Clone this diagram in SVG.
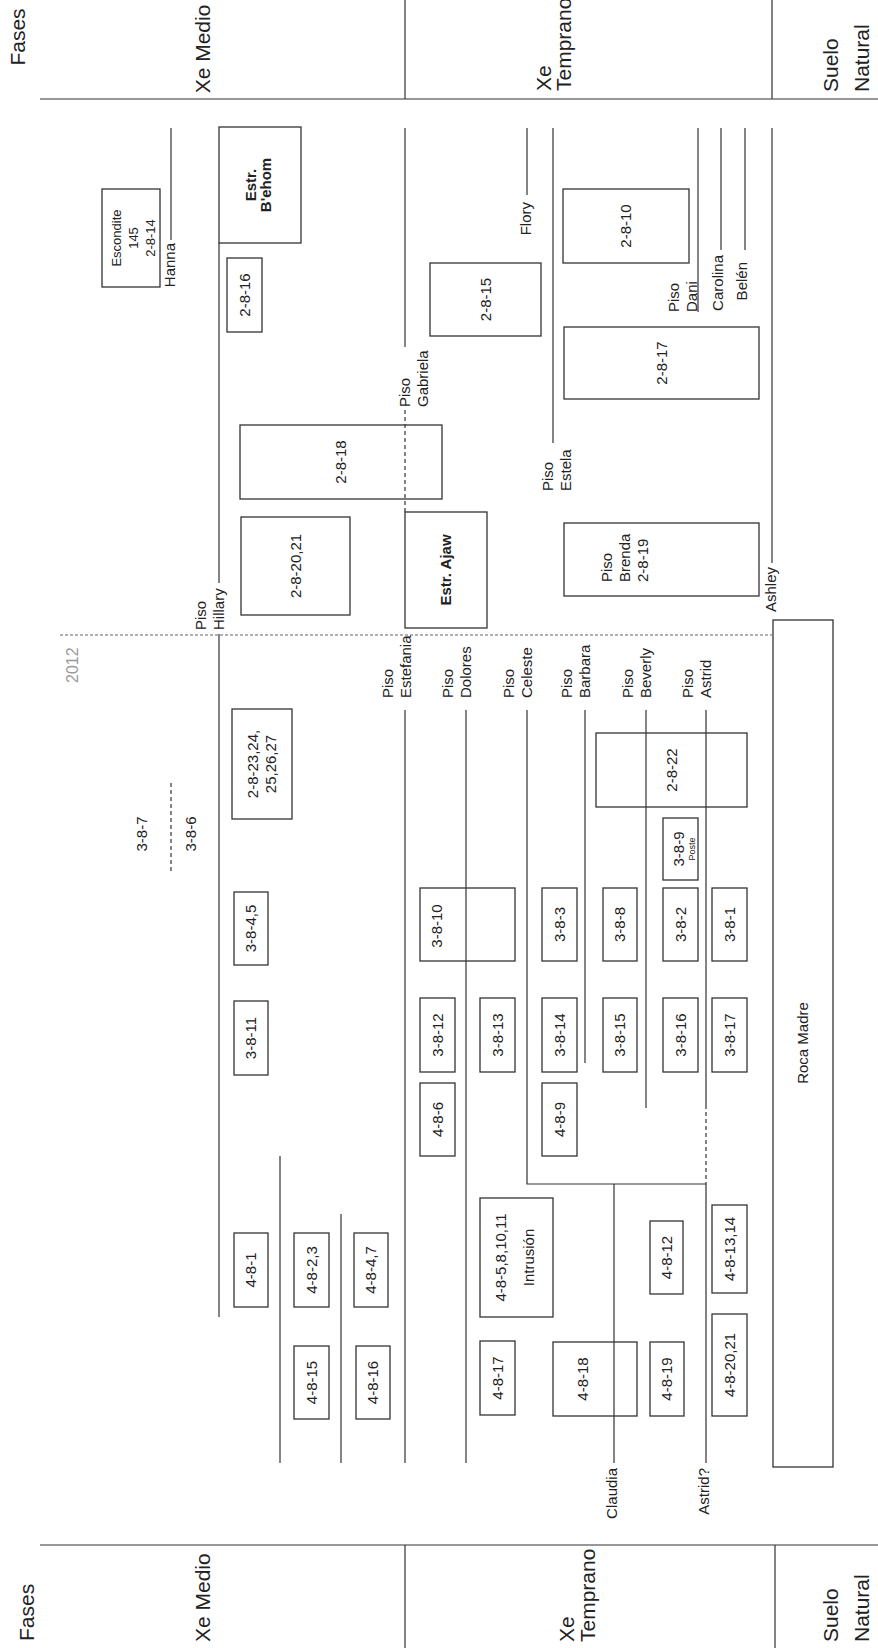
<svg xmlns="http://www.w3.org/2000/svg" width="878" height="1648" viewBox="0 0 878 1648">
<style>
text{font-family:"Liberation Sans",Arial,sans-serif;font-size:15px;fill:#222}
.h{font-size:21px}
.b{font-weight:bold}
.m{text-anchor:middle}
.e{text-anchor:end}
.sm{font-size:13px}
.xs{font-size:9px}
.g{fill:#999;font-size:16px}
rect{fill:none;stroke:#333;stroke-width:1.3}
.ln{fill:none;stroke:#333;stroke-width:1.2}
.d{stroke-dasharray:4 3}
.d2{fill:none;stroke:#999;stroke-width:1.6;stroke-dasharray:3 2}
</style>
<rect x="0" y="0" width="878" height="1648" style="fill:#fff;stroke:none"/>
<g id="header-top">
<path class="ln" d="M40 99H878M405 0V99M772 0V99"/>
<text class="h m" transform="translate(25,37) rotate(-90)">Fases</text>
<text class="h m" transform="translate(210,49) rotate(-90)">Xe Medio</text>
<text class="h" transform="translate(551,91) rotate(-90)"><tspan x="0" y="0">Xe</tspan><tspan x="0" y="20">Temprano</tspan></text>
<text class="h" transform="translate(838,92) rotate(-90)"><tspan x="0" y="0">Suelo</tspan><tspan x="0" y="31">Natural</tspan></text>
</g>
<g id="header-bottom">
<path class="ln" d="M40 1545H878M405 1545V1648M775 1545V1648"/>
<text class="h" transform="translate(34,1641) rotate(-90)">Fases</text>
<text class="h" transform="translate(210,1642) rotate(-90)">Xe Medio</text>
<text class="h" transform="translate(574,1642) rotate(-90)"><tspan x="0" y="0">Xe</tspan><tspan x="0" y="21">Temprano</tspan></text>
<text class="h" transform="translate(838,1642) rotate(-90)"><tspan x="0" y="0">Suelo</tspan><tspan x="0" y="31">Natural</tspan></text>
</g>
<g id="connectors">
<path class="ln" d="M171 128V240"/>
<path class="ln" d="M219 243V583M219 634V1317"/>
<path class="ln" d="M405 128V347"/>
<path class="ln d" d="M405 410V512"/>
<path class="ln" d="M527 128V195"/>
<path class="ln" d="M553 128V443"/>
<path class="ln" d="M698 128V312"/>
<path class="ln" d="M721 128V250"/>
<path class="ln" d="M745 128V250"/>
<path class="ln" d="M772 128V563"/>
<path class="d2" d="M60 635H772"/>
<path class="ln d" d="M171 783V873"/>
<path class="ln" d="M405 710V1463"/>
<path class="ln" d="M466 710V1463"/>
<path class="ln" d="M527 710V1184H706"/>
<path class="ln" d="M585 710V1063"/>
<path class="ln" d="M646 710V1108"/>
<path class="ln" d="M706 710V1105M706 1184V1463"/>
<path class="ln d" d="M706 1105V1184"/>
<path class="ln" d="M614 1184V1463"/>
<path class="ln" d="M280 1156V1463"/>
<path class="ln" d="M341 1214V1463"/>
</g>
<g id="labels">
<text class="e" transform="translate(175,243) rotate(-90)">Hanna</text>
<text class="e" transform="translate(531,202) rotate(-90)">Flory</text>
<text class="e" transform="translate(723,255) rotate(-90)">Carolina</text>
<text class="e" transform="translate(747,262) rotate(-90)">Belén</text>
<text class="e" transform="translate(776,567) rotate(-90)">Ashley</text>
<text class="e" transform="translate(617,1468) rotate(-90)">Claudia</text>
<text class="e" transform="translate(709,1468) rotate(-90)">Astrid?</text>
<text transform="translate(206,630) rotate(-90)"><tspan x="0" y="0">Piso</tspan><tspan x="0" y="18">Hillary</tspan></text>
<text transform="translate(410,407) rotate(-90)"><tspan x="0" y="0">Piso</tspan><tspan x="0" y="18">Gabriela</tspan></text>
<text transform="translate(553,491) rotate(-90)"><tspan x="0" y="0">Piso</tspan><tspan x="0" y="18">Estela</tspan></text>
<text transform="translate(679,312) rotate(-90)"><tspan x="0" y="0">Piso</tspan><tspan x="0" y="18">Dani</tspan></text>
<text transform="translate(393,698) rotate(-90)"><tspan x="0" y="0">Piso</tspan><tspan x="0" y="18">Estefania</tspan></text>
<text transform="translate(453,698) rotate(-90)"><tspan x="0" y="0">Piso</tspan><tspan x="0" y="18">Dolores</tspan></text>
<text transform="translate(514,698) rotate(-90)"><tspan x="0" y="0">Piso</tspan><tspan x="0" y="18">Celeste</tspan></text>
<text transform="translate(572,698) rotate(-90)"><tspan x="0" y="0">Piso</tspan><tspan x="0" y="18">Barbara</tspan></text>
<text transform="translate(633,698) rotate(-90)"><tspan x="0" y="0">Piso</tspan><tspan x="0" y="18">Beverly</tspan></text>
<text transform="translate(693,698) rotate(-90)"><tspan x="0" y="0">Piso</tspan><tspan x="0" y="18">Astrid</tspan></text>
<text class="g" transform="translate(78,683) rotate(-90)">2012</text>
<text class="m" transform="translate(147,834) rotate(-90)">3-8-7</text>
<text class="m" transform="translate(196,834) rotate(-90)">3-8-6</text>
</g>
<g id="n-escondite"><rect x="102" y="189" width="58" height="98"/><text class="sm m" transform="translate(121,238) rotate(-90)"><tspan x="0" y="0">Escondite</tspan><tspan x="0" y="17">145</tspan><tspan x="0" y="34">2-8-14</tspan></text></g>
<g id="n-behom"><rect x="219" y="127" width="82" height="116"/><text class="b m" transform="translate(256,185) rotate(-90)"><tspan x="0" y="0">Estr.</tspan><tspan x="0" y="15">B'ehom</tspan></text></g>
<g id="n-2-8-16"><rect x="227" y="258" width="35" height="74"/><text class="m" transform="translate(249.9,295) rotate(-90)">2-8-16</text></g>
<g id="n-2-8-15"><rect x="430" y="263" width="111" height="73"/><text class="m" transform="translate(490.9,299.5) rotate(-90)">2-8-15</text></g>
<g id="n-2-8-10"><rect x="563" y="189" width="126" height="74"/><text class="m" transform="translate(631.4,226) rotate(-90)">2-8-10</text></g>
<g id="n-2-8-17"><rect x="564" y="327" width="195" height="72"/><text class="m" transform="translate(666.9,363) rotate(-90)">2-8-17</text></g>
<g id="n-2-8-18"><rect x="240" y="425" width="202" height="74"/><text class="m" transform="translate(346.4,462) rotate(-90)">2-8-18</text></g>
<g id="n-2-8-20"><rect x="241" y="517" width="109" height="98"/><text class="m" transform="translate(300.9,566) rotate(-90)">2-8-20,21</text></g>
<g id="n-ajaw"><rect x="405" y="512" width="82" height="116"/><text class="b m" transform="translate(451.4,570) rotate(-90)">Estr. Ajaw</text></g>
<g id="n-brenda"><rect x="564" y="523" width="195" height="73"/><text transform="translate(612,582) rotate(-90)"><tspan x="0" y="0">Piso</tspan><tspan x="0" y="18">Brenda</tspan><tspan x="0" y="36">2-8-19</tspan></text></g>
<g id="n-2-8-23"><rect x="232" y="709" width="60" height="110"/><text class="m" transform="translate(258,764) rotate(-90)"><tspan x="0" y="0">2-8-23,24,</tspan><tspan x="0" y="18">25,26,27</tspan></text></g>
<g id="n-2-8-22"><rect x="596" y="733" width="151" height="74"/><text class="m" transform="translate(676.9,770) rotate(-90)">2-8-22</text></g>
<g id="n-3-8-9"><rect x="663" y="818" width="35" height="62"/><text class="m" transform="translate(684,849) rotate(-90)">3-8-9</text><text class="xs m" transform="translate(695,849) rotate(-90)">Poste</text></g>
<g id="n-3-8-4"><rect x="234" y="892" width="34" height="73"/><text class="m" transform="translate(256.4,928.5) rotate(-90)">3-8-4,5</text></g>
<g id="n-3-8-11"><rect x="234" y="1001" width="34" height="74"/><text class="m" transform="translate(256.4,1038) rotate(-90)">3-8-11</text></g>
<g id="n-3-8-10"><rect x="420" y="888" width="95" height="73"/><text class="m" transform="translate(442,926) rotate(-90)">3-8-10</text></g>
<g id="n-3-8-3"><rect x="542" y="888" width="35" height="73"/><text class="m" transform="translate(564.9,924.5) rotate(-90)">3-8-3</text></g>
<g id="n-3-8-8"><rect x="603" y="888" width="34" height="73"/><text class="m" transform="translate(625.4,924.5) rotate(-90)">3-8-8</text></g>
<g id="n-3-8-2"><rect x="663" y="888" width="35" height="73"/><text class="m" transform="translate(685.9,924.5) rotate(-90)">3-8-2</text></g>
<g id="n-3-8-1"><rect x="712" y="888" width="35" height="73"/><text class="m" transform="translate(734.9,924.5) rotate(-90)">3-8-1</text></g>
<g id="n-3-8-12"><rect x="420" y="998" width="35" height="74"/><text class="m" transform="translate(442.9,1035) rotate(-90)">3-8-12</text></g>
<g id="n-3-8-13"><rect x="480" y="998" width="35" height="74"/><text class="m" transform="translate(502.9,1035) rotate(-90)">3-8-13</text></g>
<g id="n-3-8-14"><rect x="542" y="998" width="35" height="74"/><text class="m" transform="translate(564.9,1035) rotate(-90)">3-8-14</text></g>
<g id="n-3-8-15"><rect x="603" y="998" width="34" height="74"/><text class="m" transform="translate(625.4,1035) rotate(-90)">3-8-15</text></g>
<g id="n-3-8-16"><rect x="663" y="998" width="35" height="74"/><text class="m" transform="translate(685.9,1035) rotate(-90)">3-8-16</text></g>
<g id="n-3-8-17"><rect x="712" y="998" width="35" height="74"/><text class="m" transform="translate(734.9,1035) rotate(-90)">3-8-17</text></g>
<g id="n-roca"><rect x="773" y="620" width="60" height="847"/><text class="m" transform="translate(808.4,1043) rotate(-90)">Roca Madre</text></g>
<g id="n-4-8-6"><rect x="420" y="1083" width="35" height="73"/><text class="m" transform="translate(442.9,1119.5) rotate(-90)">4-8-6</text></g>
<g id="n-4-8-9"><rect x="542" y="1083" width="35" height="73"/><text class="m" transform="translate(564.9,1119.5) rotate(-90)">4-8-9</text></g>
<g id="n-4-8-1"><rect x="234" y="1233" width="34" height="74"/><text class="m" transform="translate(256.4,1270) rotate(-90)">4-8-1</text></g>
<g id="n-4-8-2"><rect x="294" y="1233" width="35" height="74"/><text class="m" transform="translate(316.9,1270) rotate(-90)">4-8-2,3</text></g>
<g id="n-4-8-4"><rect x="354" y="1233" width="34" height="74"/><text class="m" transform="translate(376.4,1270) rotate(-90)">4-8-4,7</text></g>
<g id="n-intrusion"><rect x="480" y="1198" width="73" height="119"/><text class="m" transform="translate(506,1257.5) rotate(-90)"><tspan x="0" y="0">4-8-5,8,10,11</tspan><tspan x="0" y="28">Intrusión</tspan></text></g>
<g id="n-4-8-12"><rect x="650" y="1221" width="33" height="73"/><text class="m" transform="translate(671.9,1257.5) rotate(-90)">4-8-12</text></g>
<g id="n-4-8-13"><rect x="712" y="1205" width="35" height="88"/><text class="m" transform="translate(734.9,1249) rotate(-90)">4-8-13,14</text></g>
<g id="n-4-8-15"><rect x="294" y="1346" width="35" height="73"/><text class="m" transform="translate(316.9,1382.5) rotate(-90)">4-8-15</text></g>
<g id="n-4-8-16"><rect x="356" y="1346" width="34" height="73"/><text class="m" transform="translate(378.4,1382.5) rotate(-90)">4-8-16</text></g>
<g id="n-4-8-17"><rect x="480" y="1341" width="35" height="74"/><text class="m" transform="translate(502.9,1378) rotate(-90)">4-8-17</text></g>
<g id="n-4-8-18"><rect x="553" y="1342" width="84" height="74"/><text class="m" transform="translate(588,1379) rotate(-90)">4-8-18</text></g>
<g id="n-4-8-19"><rect x="650" y="1342" width="34" height="74"/><text class="m" transform="translate(672.4,1379) rotate(-90)">4-8-19</text></g>
<g id="n-4-8-20"><rect x="712" y="1314" width="35" height="102"/><text class="m" transform="translate(734.9,1365) rotate(-90)">4-8-20,21</text></g>
</svg>
